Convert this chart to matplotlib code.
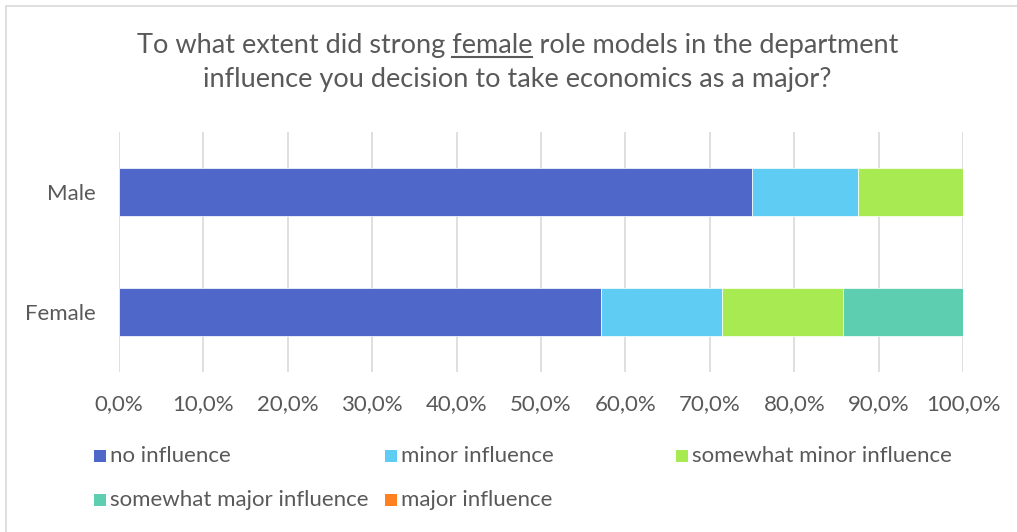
import matplotlib.pyplot as plt
from matplotlib.patches import Rectangle
from matplotlib.lines import Line2D

plt.rcParams['font.family'] = ['Lato', 'DejaVu Sans']

# survey answers, share of respondents per group
groups = ['Female', 'Male']
series = ['no influence', 'minor influence', 'somewhat minor influence',
          'somewhat major influence', 'major influence']
shares = {
    'no influence': [57.14, 75.0],
    'minor influence': [14.29, 12.5],
    'somewhat minor influence': [14.29, 12.5],
    'somewhat major influence': [14.28, 0.0],
    'major influence': [0.0, 0.0],
}
colors = ['#4E67C8', '#5ECCF3', '#A7EA52', '#5DCEAF', '#FF8021']
ticks = [0, 10, 20, 30, 40, 50, 60, 70, 80, 90, 100]
tick_labels = ['0,0%', '10,0%', '20,0%', '30,0%', '40,0%', '50,0%',
               '60,0%', '70,0%', '80,0%', '90,0%', '100,0%']

txt = '#595959'
tfs = 19.5
lfs = 16
fig = plt.figure(figsize=(10.17, 5.32), dpi=100)
ax = fig.add_axes([0.117, 0.3008, 0.830, 0.4511])

left = [0.0] * len(groups)
for name, c in zip(series, colors):
    vals = shares[name]
    ax.barh(range(len(groups)), vals, left=left, height=0.4, color=c,
            edgecolor='white', linewidth=0.5, zorder=3)
    left = [l + v for l, v in zip(left, vals)]

ax.set_xlim(0, 100)
ax.set_ylim(-0.5, 1.5)
ax.set_xticks(ticks)
ax.set_xticklabels(tick_labels)
ax.set_yticks(range(len(groups)))
ax.set_yticklabels(groups)
ax.tick_params(axis='x', length=0, pad=16, labelsize=lfs, labelcolor=txt)
ax.tick_params(axis='y', length=0, pad=17, labelsize=lfs, labelcolor=txt)
ax.grid(axis='x', color='#D9D9D9', linewidth=1.2, zorder=0)
for s in ax.spines.values():
    s.set_visible(False)

# title, with "female" underlined
t1 = 'To what extent did strong female role models in the department'
t2 = 'influence you decision to take economics as a major?'
cx = 0.509
h1 = fig.text(cx, 1 - 46 / 532, t1, ha='center', va='center', fontsize=tfs, color=txt)
fig.text(cx, 1 - 80 / 532, t2, ha='center', va='center', fontsize=tfs, color=txt)
fig.canvas.draw()
r = fig.canvas.get_renderer()
bb = h1.get_window_extent(r)
pre = fig.text(0, 0, 'To what extent did strong female', fontsize=tfs)
word = fig.text(0, 0, 'female', fontsize=tfs)
w_pre = pre.get_window_extent(r).width
w_word = word.get_window_extent(r).width
pre.remove()
word.remove()
x1 = bb.x0 + w_pre
x0 = x1 - w_word
uy = bb.y0 + 2
fig.add_artist(Line2D([x0 / fig.bbox.width, x1 / fig.bbox.width],
                      [uy / fig.bbox.height, uy / fig.bbox.height],
                      color=txt, linewidth=1.5, transform=fig.transFigure))

# legend, three fixed-width columns
for i, (name, c) in enumerate(zip(series, colors)):
    col, row = i % 3, i // 3
    x = (94 + col * 291) / 1017
    y = 1 - (456 + row * 44) / 532
    fig.add_artist(Rectangle((x, y - 6 / 532), 12 / 1017, 12 / 532,
                             facecolor=c, edgecolor='none', transform=fig.transFigure))
    fig.text(x + 16 / 1017, y, name, ha='left', va='center', fontsize=lfs, color=txt)

# chart border
fig.add_artist(Rectangle((6 / 1017, -0.05), 1.2, 1 - 6 / 532 + 0.05, fill=False,
                         edgecolor='#D9D9D9', linewidth=1.2, transform=fig.transFigure))

fig.savefig('out.png', dpi=100)
